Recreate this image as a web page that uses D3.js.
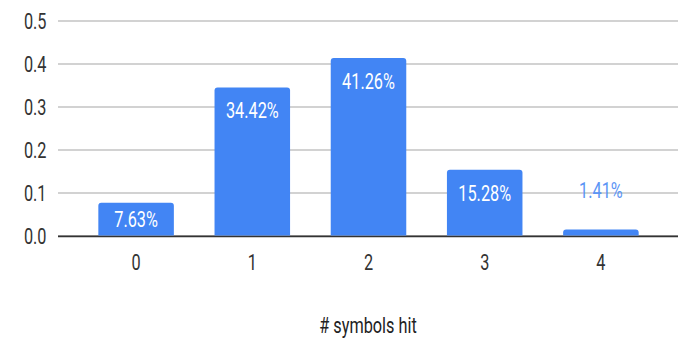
<!DOCTYPE html>
<html>
<head>
<meta charset="utf-8">
<script src="https://cdn.jsdelivr.net/npm/d3@7"></script>
<style>
  html, body { margin: 0; padding: 0; background: #fff; }
  svg { display: block; }
  text { font-family: Roboto, "Liberation Sans", Arial, sans-serif; }
</style>
</head>
<body>
<svg id="chart" width="692" height="340"></svg>
<script>
// Share of rounds by number of symbols hit
const categories = ["0", "1", "2", "3", "4"];
const shares = [0.0763, 0.3442, 0.4126, 0.1528, 0.0141];
const yTicks = [0, 0.1, 0.2, 0.3, 0.4, 0.5];
const xTitle = "# symbols hit";

const W = 692, H = 340;
const plot = { left: 58, right: 678, top: 20.5, bottom: 235.5 };
const fontSize = 22;
const squeeze = 0.74;   // condensed glyph width
const barColor = "#4285F4";

const svg = d3.select("#chart");

const x = d3.scaleBand()
  .domain(categories)
  .range([78, 659])
  .paddingInner(0.35)
  .paddingOuter(0.175);

const y = d3.scaleLinear()
  .domain([0, 0.5])
  .range([plot.bottom, plot.top]);

// Horizontal gridlines and y tick labels
const yAxis = d3.axisLeft(y)
  .tickValues(yTicks)
  .tickFormat(d3.format(".1f"))
  .tickSize(-(plot.right - plot.left))
  .tickPadding(0);

const gy = svg.append("g")
  .attr("transform", `translate(${plot.left},0)`)
  .call(yAxis);
gy.select(".domain").remove();
gy.selectAll(".tick line")
  .attr("stroke", "#d2d2d2")
  .attr("stroke-width", 1.8);
gy.selectAll(".tick text")
  .attr("x", null)
  .attr("dy", null)
  .attr("dominant-baseline", null)
  .attr("y", 0)
  .attr("transform", `translate(-11.5,${fontSize * 0.355}) scale(${squeeze},1)`)
  .attr("text-anchor", "end")
  .attr("fill", "#333")
  .style("font-size", fontSize + "px")
  .style("font-family", "Roboto, 'Liberation Sans', Arial, sans-serif");

// Baseline
svg.append("line")
  .attr("x1", plot.left).attr("x2", plot.right)
  .attr("y1", y(0) + 0.8).attr("y2", y(0) + 0.8)
  .attr("stroke", "#333")
  .attr("stroke-width", 1.8);

// Bars with rounded top corners
function barPath(x0, w, top, bottom, r) {
  const rr = Math.min(r, (bottom - top), w / 2);
  return `M${x0},${bottom}V${top + rr}Q${x0},${top} ${x0 + rr},${top}` +
         `H${x0 + w - rr}Q${x0 + w},${top} ${x0 + w},${top + rr}V${bottom}Z`;
}

svg.append("g").selectAll("path")
  .data(categories)
  .join("path")
  .attr("d", (c, i) => barPath(x(c), x.bandwidth(), y(shares[i]), y(0), 3))
  .attr("fill", barColor);

// Value labels: inside the bar when it is tall enough, above it otherwise
const fmt = v => (v * 100).toFixed(2) + "%";
svg.append("g").selectAll("text")
  .data(categories)
  .join("text")
  .each(function (c, i) {
    const top = y(shares[i]);
    const h = y(0) - top;
    const inside = h > 20;
    const baseY = inside ? top + Math.min(31, h / 2 + 8) : top - 31;
    const cx = x(c) + x.bandwidth() / 2;
    d3.select(this)
      .attr("transform", `translate(${cx},${baseY}) scale(${squeeze},1)`)
      .attr("text-anchor", "middle")
      .attr("fill", inside ? "#fff" : "#5b95f5")
      .style("font-size", fontSize + "px")
      .text(fmt(shares[i]));
  });

// X tick labels
const xAxis = d3.axisBottom(x).tickSize(0).tickPadding(0);
const gx = svg.append("g")
  .attr("transform", `translate(0,${plot.bottom})`)
  .call(xAxis);
gx.select(".domain").remove();
gx.selectAll(".tick text")
  .attr("y", null)
  .attr("dy", null)
  .attr("transform", `translate(0,34.5) scale(${squeeze},1)`)
  .attr("fill", "#333")
  .style("font-size", fontSize + "px")
  .style("font-family", "Roboto, 'Liberation Sans', Arial, sans-serif");

// X axis title
svg.append("text")
  .attr("transform", `translate(${(plot.left + plot.right) / 2},333) scale(${squeeze},1)`)
  .attr("text-anchor", "middle")
  .attr("fill", "#222")
  .style("font-size", fontSize + "px")
  .text(xTitle);
</script>
</body>
</html>
